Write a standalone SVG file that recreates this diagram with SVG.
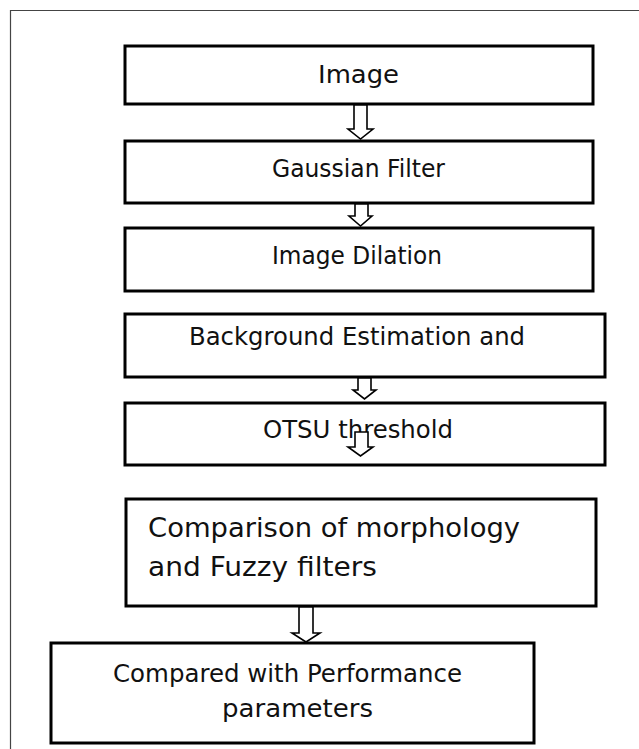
<svg xmlns="http://www.w3.org/2000/svg" width="639" height="749" viewBox="0 0 639 749">
<style>
.box{fill:#fff;stroke:#000;stroke-width:3}
.arr{fill:#fff;stroke:#000;stroke-width:1.6;stroke-linejoin:miter}
.t{font-family:"DejaVu Sans","Liberation Sans",sans-serif;font-size:25px;fill:#111}
.frame{stroke:#444;stroke-width:1.2;fill:none}
</style>
<rect width="639" height="749" fill="#fff"/>
<path class="frame" d="M10.5,749 V10.5 H639"/>
<g id="n1"><rect class="box" x="125" y="46" width="468" height="58"/><text class="t" x="318" y="83" textLength="81" lengthAdjust="spacingAndGlyphs">Image</text></g>
<g id="n2"><rect class="box" x="125" y="141" width="468" height="62"/><text class="t" x="272" y="177" textLength="173" lengthAdjust="spacingAndGlyphs">Gaussian Filter</text></g>
<g id="n3"><rect class="box" x="125" y="228" width="468" height="63"/><text class="t" x="272" y="264" textLength="170" lengthAdjust="spacingAndGlyphs">Image Dilation</text></g>
<g id="n4"><rect class="box" x="125" y="314" width="480" height="63"/><text class="t" x="189" y="345" textLength="336" lengthAdjust="spacingAndGlyphs">Background Estimation and</text></g>
<g id="n5"><rect class="box" x="125" y="403" width="480" height="62"/><text class="t" x="263" y="438" textLength="190" lengthAdjust="spacingAndGlyphs">OTSU threshold</text></g>
<g id="n6"><rect class="box" x="126" y="499" width="470" height="107"/><text class="t" style="font-size:26px" x="148" y="537" textLength="372" lengthAdjust="spacingAndGlyphs">Comparison of morphology</text><text class="t" style="font-size:26px" x="148" y="576" textLength="229" lengthAdjust="spacingAndGlyphs">and Fuzzy filters</text></g>
<g id="n7"><rect class="box" x="51" y="643" width="483" height="100"/><text class="t" x="113" y="682" textLength="349" lengthAdjust="spacingAndGlyphs">Compared with Performance</text><text class="t" x="222" y="717" textLength="151" lengthAdjust="spacingAndGlyphs">parameters</text></g>
<g id="connectors">
<polygon class="arr" points="354,105 367,105 367,129 373,129 360.5,139 348,129 354,129"/>
<polygon class="arr" points="355,204 368,204 368,216 372,216 360.5,226 349,216 355,216"/>
<polygon class="arr" points="358,378 371,378 371,390 376,390 364.5,399 353,390 358,390"/>
<polygon class="arr" points="355,432 368,432 368,447 373,447 360.5,456 348,447 355,447"/>
<polygon class="arr" points="299,607 313,607 313,633 320,633 306,642 292,633 299,633"/>
</g>
</svg>
